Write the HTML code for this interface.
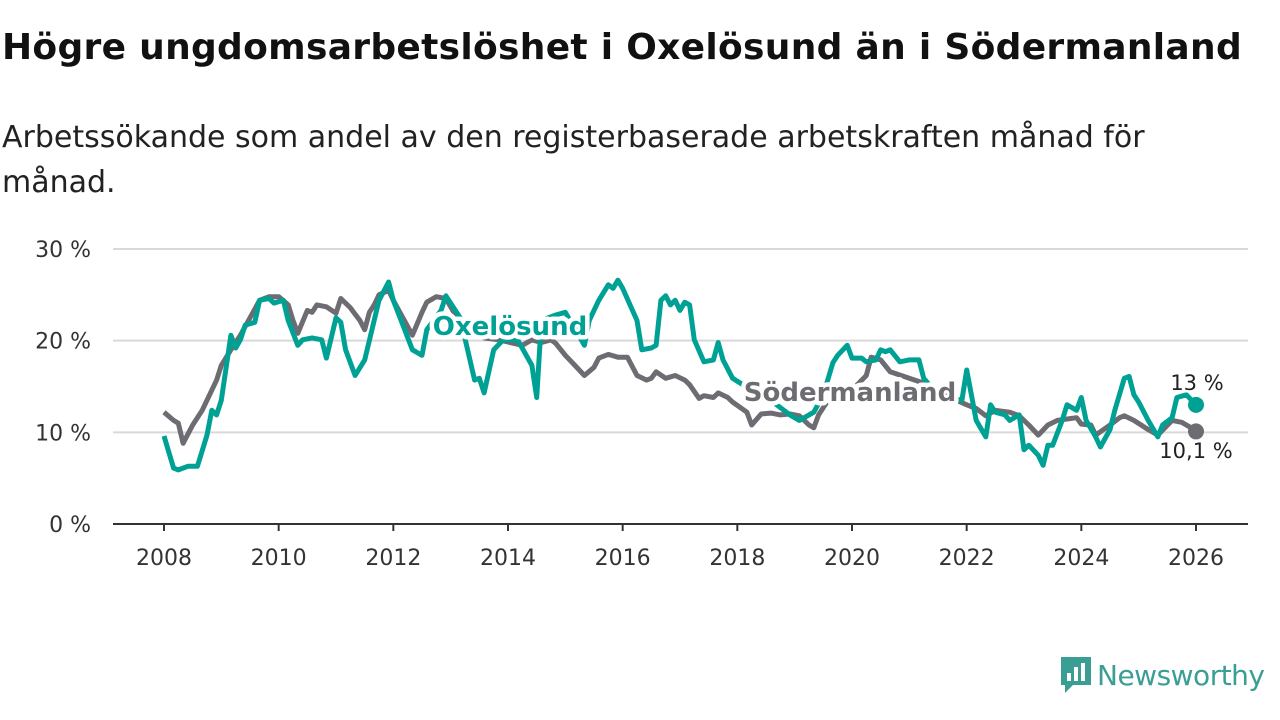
<!DOCTYPE html>
<html><head><meta charset="utf-8"><style>
body{margin:0;width:1280px;height:720px;background:#fff;font-family:"DejaVu Sans","Liberation Sans",sans-serif;overflow:hidden;position:relative}
h1{position:absolute;left:2px;top:27px;margin:0;font-size:36px;font-weight:bold;color:#111;letter-spacing:0.3px;white-space:nowrap}
.sub{position:absolute;left:2px;top:115px;margin:0;font-size:30px;line-height:45px;color:#222;width:1200px}
</style></head><body>
<h1>Högre ungdomsarbetslöshet i Oxelösund än i Södermanland</h1>
<p class="sub">Arbetssökande som andel av den registerbaserade arbetskraften månad för månad.</p>
<svg id="chart" width="1280" height="720" style="position:absolute;left:0;top:0;font-family:'DejaVu Sans',sans-serif"></svg>
<div style="position:absolute;left:1059px;top:655px;display:flex;align-items:center">
<svg width="34" height="40" viewBox="0 0 34 40"><path d="M2 2h30v28h-18l-8 8v-8h-4z" fill="#3a9e95"/><rect x="8" y="18" width="4" height="8" fill="#fff"/><rect x="15" y="12" width="4" height="14" fill="#fff"/><rect x="22" y="8" width="4" height="18" fill="#fff"/></svg>
<span style="font-size:28px;color:#3a9e95;margin-left:4px;letter-spacing:-0.5px">Newsworthy</span></div>
<script>
const oxMonths=[0,2,3,5,7,9,10,11,12,14,15,16,17,19,20,22,23,25,26,28,29,31,33,34,36,37,38,40,42,45,47,48,50,52,54,55,58,59,62,65,66,67,69,71,74,77,78,79,82,84,88,89,91,93,94,95,96,99,100,102,103,104,105,106,107,108,109,110,111,113,115,116,117,119,123,127,131,133,136,138,140,141,143,144,146,147,149,150,151,152,154,156,158,159,162,167,168,169,170,172,173,174,176,177,179,180,181,183,184,185,186,188,189,191,192,193,195,196,198,199,201,202,203,204,206,208,209,211,212,214,216];
const oxValues=[9.6,6.1,5.9,6.3,6.3,9.7,12.4,11.9,13.5,20.6,19.2,20.1,21.7,22.0,24.4,24.6,24.1,24.4,22.2,19.5,20.1,20.3,20.1,18.1,22.5,22.0,19.0,16.2,17.9,24.4,26.4,24.4,21.7,19.0,18.4,21.2,23.3,24.9,22.5,15.7,15.9,14.3,19.0,20.1,20.1,17.3,13.8,22.2,22.8,23.1,19.5,22.2,24.4,26.1,25.7,26.6,25.7,22.2,19.0,19.2,19.5,24.4,24.9,23.9,24.4,23.3,24.2,23.9,20.1,17.7,17.9,19.8,17.9,15.9,14.6,13.5,11.9,11.3,12.2,14.1,17.6,18.4,19.5,18.1,18.1,17.7,17.9,19.0,18.8,19.0,17.7,17.9,17.9,15.9,14.1,13.5,16.8,14.1,11.3,9.5,13.0,12.2,11.9,11.3,11.9,8.1,8.6,7.5,6.4,8.6,8.6,11.3,13.0,12.4,13.8,11.3,9.5,8.4,10.3,12.4,15.9,16.1,14.1,13.3,11.3,9.5,10.8,11.6,13.8,14.1,13.0];
const smMonths=[0,2,3,4,6,8,10,11,12,14,16,18,20,22,24,26,27,28,30,31,32,34,36,37,39,41,42,43,44,45,47,48,50,52,54,55,57,59,61,64,67,70,75,77,79,81,82,84,86,88,90,91,93,95,97,99,101,102,103,105,107,109,110,112,113,115,116,118,119,122,123,125,127,129,131,133,135,136,137,139,144,147,148,150,152,156,160,165,168,170,172,174,177,179,181,183,185,187,191,192,194,195,198,200,201,203,206,208,211,213,215,216];
const smValues=[12.2,11.3,11.0,8.8,10.8,12.4,14.6,15.7,17.3,19.0,20.6,22.5,24.4,24.8,24.8,23.9,22.2,20.8,23.3,23.1,23.9,23.7,23.0,24.6,23.6,22.2,21.2,23.1,23.9,25.0,25.5,24.4,22.5,20.6,23.1,24.2,24.8,24.6,22.8,21.2,20.3,20.1,19.5,20.1,19.8,20.1,19.7,18.4,17.3,16.2,17.1,18.1,18.5,18.2,18.2,16.2,15.7,15.9,16.6,15.9,16.2,15.7,15.2,13.7,14.0,13.8,14.3,13.8,13.3,12.2,10.8,12.0,12.1,11.9,12.0,11.8,10.8,10.5,11.9,13.5,14.6,16.2,18.2,17.9,16.6,15.9,15.2,13.7,13.0,12.6,11.8,12.4,12.2,11.8,10.8,9.7,10.8,11.3,11.6,10.9,10.8,9.7,10.8,11.6,11.8,11.3,10.3,9.7,11.3,11.1,10.5,10.1];
const yTicks=[0,10,20,30];
const yTickLabels=["0 %","10 %","20 %","30 %"];
const xTicks=[2008,2010,2012,2014,2016,2018,2020,2022,2024,2026];
const ns="http://www.w3.org/2000/svg";
const svg=document.getElementById('chart');
const X=yr=>164+(yr-2008)*(1196-164)/18;
const XM=m=>X(2008+m/12);
const Y=v=>524-v*(524-249)/30;
function mk(t,a){const e=document.createElementNS(ns,t);for(const k in a)e.setAttribute(k,a[k]);svg.appendChild(e);return e;}
yTicks.forEach((t,i)=>{
 if(t>0){const g=mk('line',{x1:113,x2:1248,y1:Y(t),y2:Y(t),stroke:'#d9d9d9','stroke-width':2});
 
 }
 const tx=mk('text',{x:91,y:Y(t)+8,'text-anchor':'end','font-size':22,fill:'#333'});
 
 
 tx.textContent=yTickLabels[i];
});
const ax=mk('line',{x1:113,x2:1248,y1:524,y2:524,stroke:'#333','stroke-width':2});


xTicks.forEach(t=>{
 const l=mk('line',{x1:X(t),x2:X(t),y1:524,y2:531,stroke:'#333','stroke-width':2});
 
 
 const tx=mk('text',{x:X(t),y:565,'text-anchor':'middle','font-size':22,fill:'#333'});
 
 
 tx.textContent=t;
});
function series(ms,vs,col,name){
 const d=ms.map((m,i)=>(i?'L':'M')+XM(m).toFixed(1)+' '+Y(vs[i]).toFixed(1)).join('');
 const p=mk('path',{d:d,fill:'none',stroke:col,'stroke-width':5,'stroke-linejoin':'round'});
 
 
 const n=ms.length-1;
 const c=mk('circle',{cx:XM(ms[n]),cy:Y(vs[n]),r:8,fill:col});
 
 
}
series(smMonths,smValues,'#6d6c72','sodermanland');
series(oxMonths,oxValues,'#00a195','oxelosund');
function label(x,y,txt,col,name,anchor,bold,size){
 const t=mk('text',{x:x,y:y,'text-anchor':anchor,'font-size':size,'font-weight':bold?'bold':'normal',fill:col,stroke:'#fff','stroke-width':bold?9:5,'paint-order':'stroke','stroke-linejoin':'round'});
 
 
 t.textContent=txt;
}
label(510,335,'Oxelösund','#00a195','oxelosund-label','middle',true,26);
label(850,401,'Södermanland','#6d6c72','sodermanland-label','middle',true,26);
label(1197,390,Math.round(oxValues[oxValues.length-1])+' %','#222','oxelosund-end-label','middle',false,21);
label(1196,458,smValues[smValues.length-1].toString().replace('.',',')+' %','#222','sodermanland-end-label','middle',false,21);
</script>
</body></html>
